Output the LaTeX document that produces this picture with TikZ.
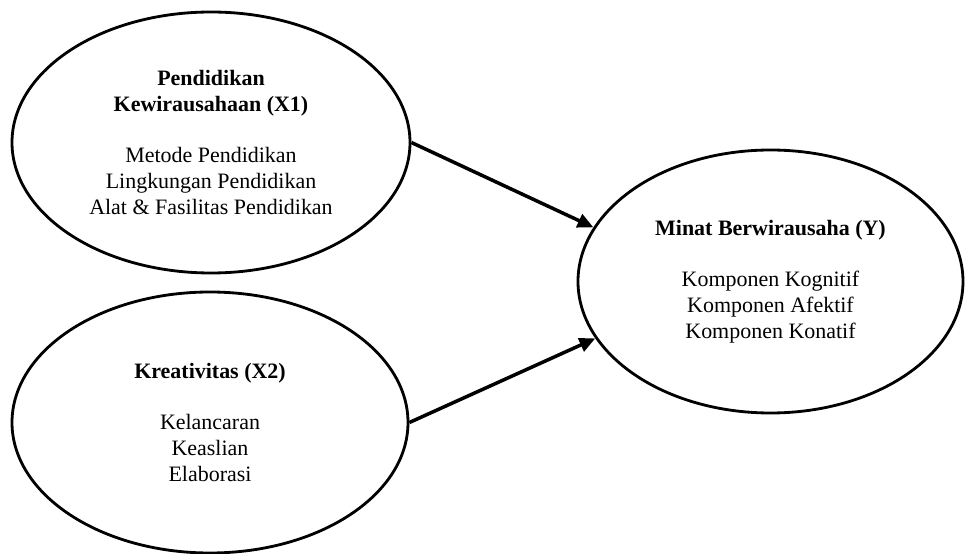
\documentclass[tikz,border=0pt]{standalone}
\usepackage{fontspec}
\setmainfont{Liberation Serif}
\usetikzlibrary{arrows.meta,shapes.geometric}
\begin{document}
\begin{tikzpicture}[
  konstruk/.style={ellipse, draw, line width=1.6pt, align=center,
    font=\fontsize{12.5}{14.8}\selectfont, inner sep=0pt},
  panah/.style={line width=2pt, -{Triangle[length=9pt,width=8pt]}}
]
\useasboundingbox (0,0) rectangle (19.3,11.08);
\node[konstruk, minimum width=7.96cm, minimum height=5.22cm] (x1) at (4.22,8.23)
  {\textbf{Pendidikan}\\ \textbf{Kewirausahaan (X1)}\\[0.5cm]
   Metode Pendidikan\\ Lingkungan Pendidikan\\ Alat \& Fasilitas Pendidikan};
\node[konstruk, minimum width=7.92cm, minimum height=5.22cm] (x2) at (4.2,2.63)
  {\textbf{Kreativitas (X2)}\\[0.5cm] Kelancaran\\ Keaslian\\ Elaborasi};
\node[konstruk, minimum width=7.7cm, minimum height=5.26cm] (y) at (15.41,5.45)
  {\textbf{Minat Berwirausaha (Y)}\\[0.5cm] Komponen Kognitif\\ Komponen Afektif\\ Komponen Konatif};
\draw[panah] (x1.east) -- (y.163);
\draw[panah] (x2.east) -- (y.198);
\end{tikzpicture}
\end{document}
